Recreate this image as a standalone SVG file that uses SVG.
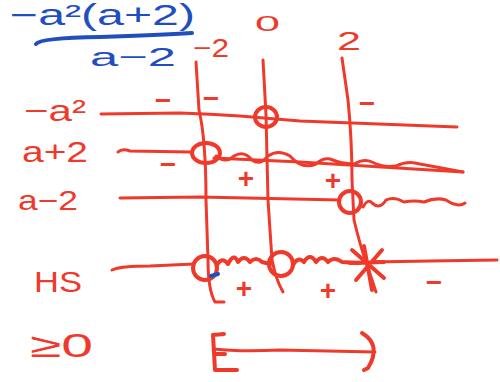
<svg xmlns="http://www.w3.org/2000/svg" width="500" height="382" viewBox="0 0 500 382">
<style>
.r{fill:none;stroke:#ef3a2b;stroke-width:3;stroke-linecap:round;stroke-linejoin:round}
.rb{fill:none;stroke:#ef3a2b;stroke-width:4;stroke-linecap:round;stroke-linejoin:round}
.b{fill:none;stroke:#1f4fbf;stroke-width:4;stroke-linecap:round}
.tr{fill:#ef3a2b;font-family:"Liberation Sans",Arial,sans-serif}
.tb{fill:#1f4fbf;font-family:"Liberation Sans",Arial,sans-serif}
.s{fill:#ef3a2b;font-family:"Liberation Sans",Arial,sans-serif;font-size:28px;font-weight:bold;text-anchor:middle}
</style>
<rect width="500" height="382" fill="#ffffff"/>
<g id="expression">
<text class="tb" x="10" y="25" font-size="29" textLength="185" lengthAdjust="spacingAndGlyphs">−a²(a+2)</text>
<path class="b" d="M36,44 Q40,38 100,37 Q160,35 192,33"/>
<text class="tb" x="90" y="66" font-size="26" textLength="86" lengthAdjust="spacingAndGlyphs">a−2</text>
</g>
<g id="critical-values">
<text class="tr" x="193" y="57" font-size="26" textLength="36" lengthAdjust="spacingAndGlyphs">−2</text>
<text class="tr" x="255" y="31" font-size="22" textLength="25" lengthAdjust="spacingAndGlyphs">0</text>
<text class="tr" x="337" y="50" font-size="26" textLength="24" lengthAdjust="spacingAndGlyphs">2</text>
</g>
<g id="row-labels">
<text class="tr" x="24" y="121" font-size="30" textLength="62" lengthAdjust="spacingAndGlyphs">−a²</text>
<text class="tr" x="22" y="162" font-size="30" textLength="66" lengthAdjust="spacingAndGlyphs">a+2</text>
<text class="tr" x="18" y="210" font-size="28" textLength="60" lengthAdjust="spacingAndGlyphs">a−2</text>
<text class="tr" x="34" y="292" font-size="30" textLength="48" lengthAdjust="spacingAndGlyphs">HS</text>
<text class="tr" x="30" y="357" font-size="34" textLength="63" lengthAdjust="spacingAndGlyphs">≥0</text>
</g>
<g id="connectors">
<path class="r" d="M196,62 L199,110 Q206,140 206,200 L208,260 Q208,290 215,302 L224,302"/>
<path class="r" d="M263,60 L266,115 L268,200 L272,260 Q276,280 283,292"/>
<path class="r" d="M342,58 L348,100 Q352,140 352,180 L354,220 Q360,245 366,262 L376,292"/>
<path class="r" d="M101,114 L180,113 Q210,114 240,116 L300,121 L457,127"/>
<path class="r" d="M118,152 Q122,148 130,151 L190,152"/>
<path class="r" d="M214,158 L300,162 L463,172"/>
<path class="r" d="M216,156 Q226,164 234,156 Q244,150 252,160 Q260,166 268,156 Q278,149 290,156 Q302,170 316,164 Q322,158 330,159 Q342,164 354,164 Q364,158 372,162 Q384,168 396,166 Q408,160 420,164 L463,172"/>
<path class="r" d="M120,198 L200,197 L340,200"/>
<path class="r" d="M363,207 Q368,198 372,203 Q380,210 386,200 Q394,196 404,202 Q414,200 424,202 Q436,197 446,200 Q458,208 465,203"/>
<path class="r" d="M112,270 Q120,266 150,266 L194,264"/>
<path class="rb" d="M217,265 Q222,256 228,264 Q234,252 238,262 Q244,254 250,262 Q256,256 262,262 L270,264"/>
<path class="rb" d="M293,265 Q298,256 304,262 Q310,252 316,262 Q322,254 328,262 Q334,256 342,262 L360,263"/>
<path class="r" d="M372,262 L430,261 L497,260"/>
<path class="r" d="M214,349 Q240,352 280,350 Q330,351 375,352"/>
</g>
<g id="markers">
<ellipse class="rb" cx="266" cy="117" rx="11" ry="10"/>
<ellipse class="rb" cx="206" cy="153" rx="14" ry="10"/>
<ellipse class="rb" cx="350" cy="202" rx="11" ry="11"/>
<ellipse class="rb" cx="205" cy="268" rx="12" ry="12"/>
<ellipse class="rb" cx="281" cy="264" rx="12" ry="12"/>
<path class="rb" d="M352,250 L384,278 M382,250 L356,280 M364,246 L372,290 M350,263 L384,262"/>
<path class="rb" d="M224,334 L213,335 L215,370 L237,370 M215,354 L225,354"/>
<path class="rb" d="M362,333 Q382,345 368,368 L364,370"/>
<path class="b" d="M211,276 L218,274" stroke-width="3"/>
</g>
<g id="signs">
<text class="s" x="163" y="110">−</text>
<text class="s" x="211" y="108">−</text>
<text class="s" x="367" y="113">−</text>
<text class="s" x="168" y="174">−</text>
<text class="s" x="246" y="188">+</text>
<text class="s" x="333" y="190">+</text>
<text class="s" x="244" y="298">+</text>
<text class="s" x="328" y="300">+</text>
<text class="s" x="434" y="292">−</text>
</g>
</svg>
